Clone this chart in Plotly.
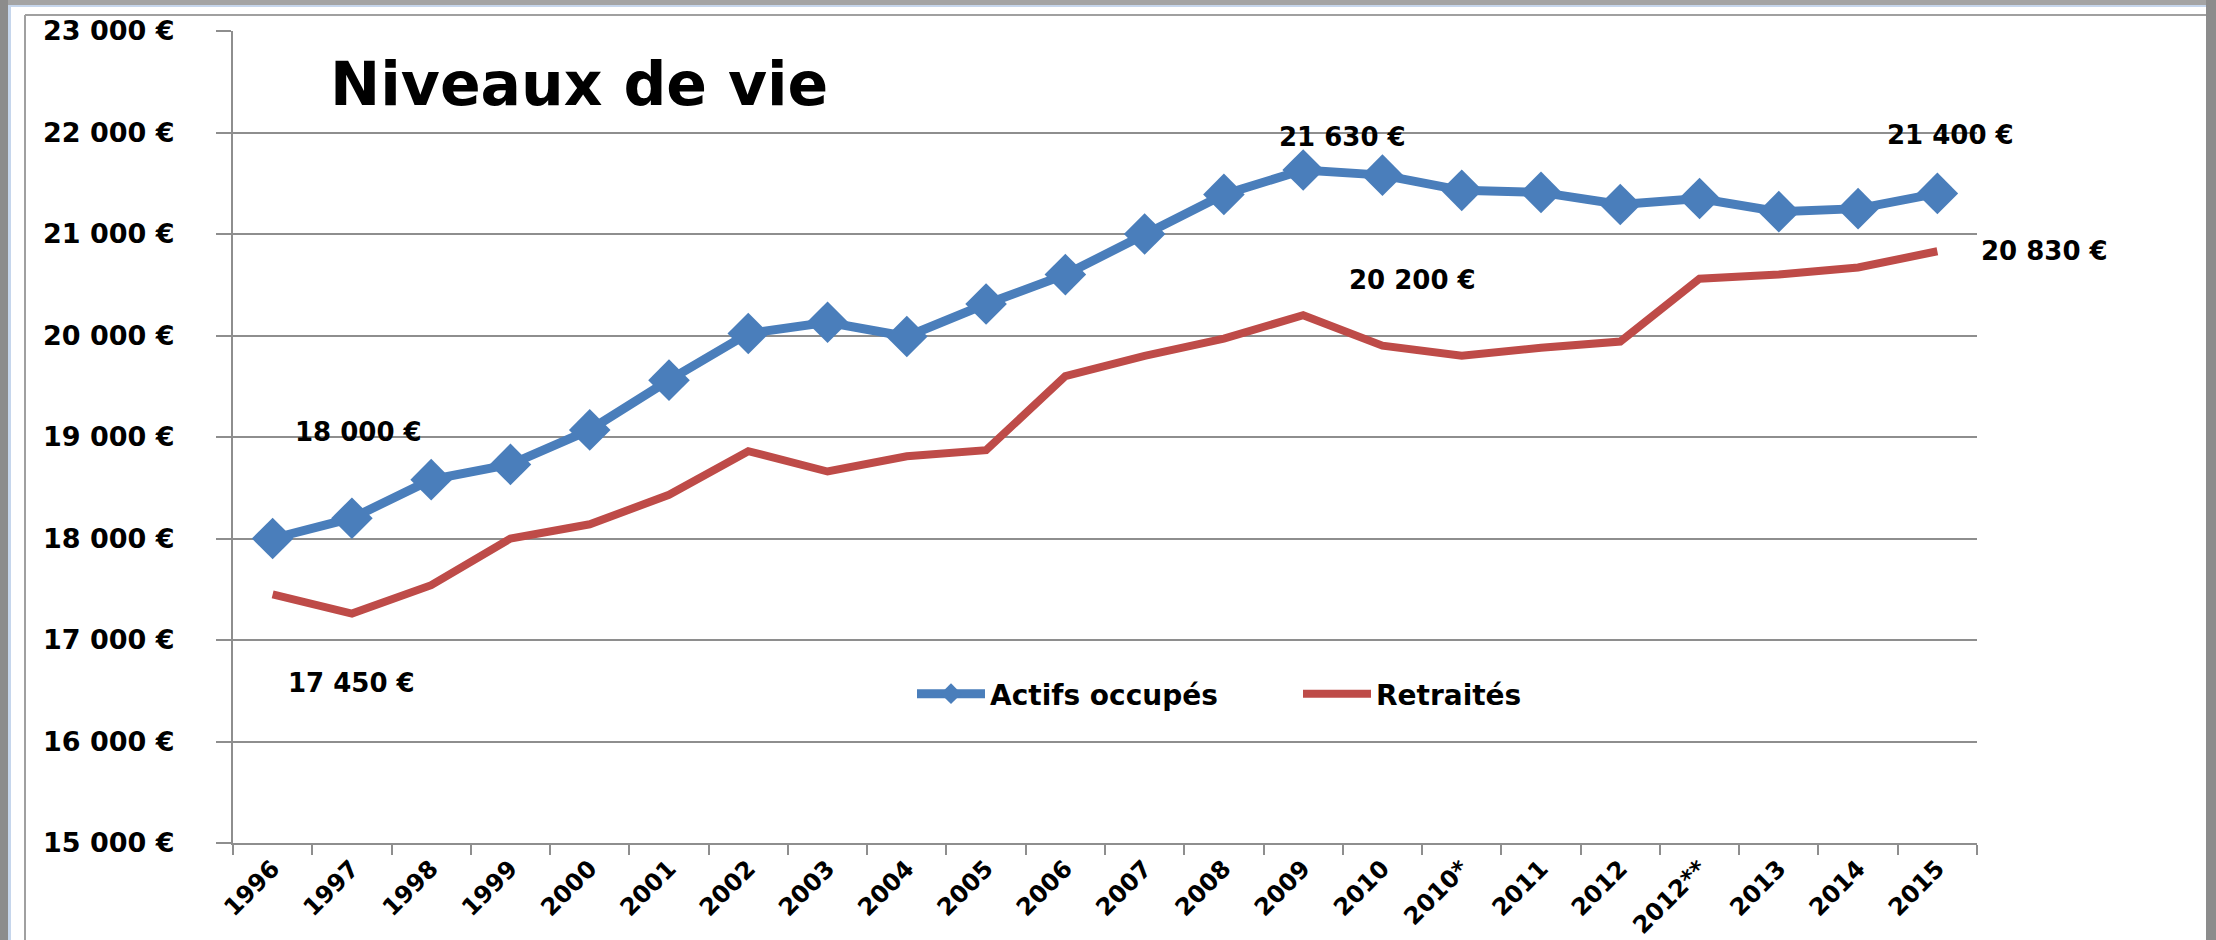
import plotly.graph_objects as go

# ---------------- data ----------------
categories = ["1996", "1997", "1998", "1999", "2000", "2001", "2002", "2003", "2004",
              "2005", "2006", "2007", "2008", "2009", "2010", "2010*", "2011", "2012",
              "2012**", "2013", "2014", "2015"]
actifs_occupes = [18000, 18200, 18580, 18730, 19070, 19560, 20020, 20130, 19990, 20310,
                  20600, 21000, 21390, 21630, 21580, 21430, 21410, 21290, 21350, 21220,
                  21250, 21400]
retraites = [17450, 17260, 17540, 18000, 18140, 18430, 18860, 18660, 18810, 18870,
             19600, 19800, 19970, 20200, 19900, 19800, 19880, 19940, 20560, 20600,
             20670, 20830]
y_tickvals = [15000, 16000, 17000, 18000, 19000, 20000, 21000, 22000, 23000]
y_ticktext = ["15 000 €", "16 000 €", "17 000 €", "18 000 €", "19 000 €",
              "20 000 €", "21 000 €", "22 000 €", "23 000 €"]
label_idx = [0, 13, 21]
title_text = "Niveaux de vie"

# ---------------- layout geometry ----------------
W, H = 2216, 940
L, R, T, B = 233, 239, 31, 97
PW, PH = W - L - R, H - T - B


def px_x(px):
    return (px - L) / PW


def px_y(py):
    return (T + PH - py) / PH


def fmt(v):
    return f"{v:,}".replace(",", " ") + " €"


BLUE = "#4A7EBB"
RED = "#BE4B48"
GRID = "#8e8e8e"
FONT = "DejaVu Sans"

fig = go.Figure()
fig.add_trace(go.Scatter(
    x=categories, y=actifs_occupes, name="Actifs occupés", mode="lines+markers",
    line=dict(color=BLUE, width=9),
    marker=dict(symbol="diamond", size=32, color=BLUE),
))
fig.add_trace(go.Scatter(
    x=categories, y=retraites, name="Retraités", mode="lines",
    line=dict(color=RED, width=8),
))

# data labels (x given as category index)
blue_offsets = [(86, 107), (39, 33), (13, 58)]
red_offsets = [(79, -89), (109, 35), (107, 0)]
label_font = dict(family=FONT, size=26, color="black", weight="bold")
for i, (dx, dy) in zip(label_idx, blue_offsets):
    fig.add_annotation(x=i, y=actifs_occupes[i], text=fmt(actifs_occupes[i]),
                       showarrow=False, xshift=dx, yshift=dy, font=label_font)
for i, (dx, dy) in zip(label_idx, red_offsets):
    fig.add_annotation(x=i, y=retraites[i], text=fmt(retraites[i]),
                       showarrow=False, xshift=dx, yshift=dy, font=label_font)

# title
fig.add_annotation(xref="paper", yref="paper", x=px_x(328), y=px_y(84),
                   xanchor="left", yanchor="middle", text=title_text, showarrow=False,
                   font=dict(family=FONT, size=60, color="black", weight="bold"))

# window frame decoration
def rect(x0, y0, x1, y1, color):
    return dict(type="rect", xref="paper", yref="paper", layer="below",
                x0=px_x(x0), x1=px_x(x1), y0=px_y(y1), y1=px_y(y0),
                fillcolor=color, line=dict(width=0))


def line(x0, y0, x1, y1, color, width):
    return dict(type="line", xref="paper", yref="paper", layer="below",
                x0=px_x(x0), x1=px_x(x1), y0=px_y(y0), y1=px_y(y1),
                line=dict(color=color, width=width))


shapes = [
    rect(0, 0, W, 5, "#a4a4a4"),
    rect(8, 5, 2206, 7, "#c6d6ec"),
    rect(0, 0, 8, H, "#8c8c8c"),
    rect(8, 5, 11, H, "#c6d6ec"),
    rect(2206, 0, W, H, "#8c8c8c"),
    line(25, 15, 25, H, "#a0a0a0", 2),
    line(25, 15, 2206, 15, "#a0a0a0", 2),
]

fig.update_layout(
    width=W, height=H,
    margin=dict(l=L, r=R, t=T, b=B, pad=0, autoexpand=False),
    paper_bgcolor="white", plot_bgcolor="white",
    shapes=shapes,
    showlegend=True,
    legend=dict(orientation="h", x=px_x(912), y=px_y(694), xanchor="left", yanchor="middle",
                font=dict(family=FONT, size=28, color="black", weight="bold"),
                itemwidth=68, bgcolor="rgba(0,0,0,0)", entrywidth=303, entrywidthmode="pixels"),
    xaxis=dict(type="category", range=[-0.5, len(categories) - 0.5], automargin=False,
               showgrid=False, showline=True, linecolor=GRID, linewidth=2,
               ticks="outside", ticklen=10, tickcolor=GRID, tickwidth=2,
               tickson="boundaries", tickangle=-45,
               tickfont=dict(family=FONT, size=24, color="black", weight="bold")),
    yaxis=dict(range=[15000, 23000], tickvals=y_tickvals, ticktext=y_ticktext, automargin=False,
               showgrid=True, gridcolor=GRID, gridwidth=1.5, zeroline=False,
               showline=True, linecolor=GRID, linewidth=2,
               ticks="outside", ticklen=15, tickcolor=GRID, tickwidth=1.5,
               ticklabelstandoff=36,
               tickfont=dict(family=FONT, size=27, color="black", weight="bold")),
)

fig.write_html("out.html", config={"displayModeBar": False},
               post_script="document.body.style.margin='0';document.body.style.overflow='hidden';")
